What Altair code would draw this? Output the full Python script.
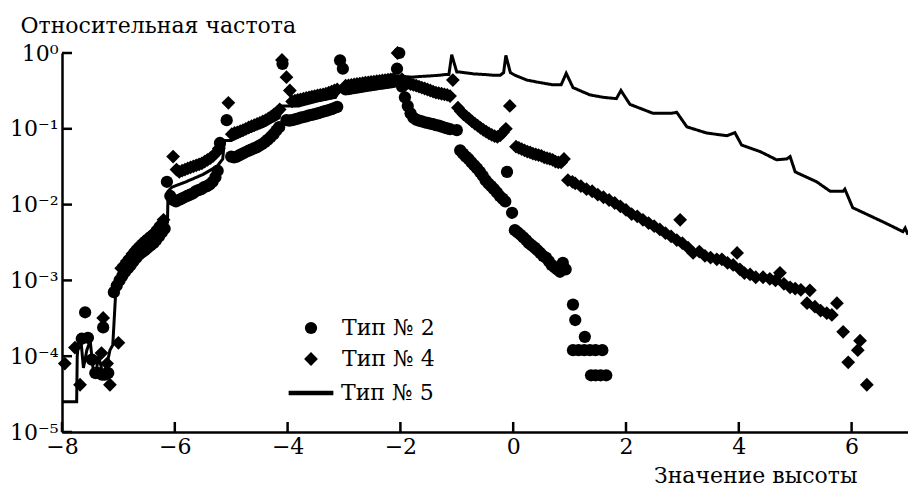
import altair as alt
import pandas as pd

# ---------------- data ----------------
series_names = ["Тип № 2", "Тип № 4", "Тип № 5"]

x_ticks = [-8, -6, -4, -2, 0, 2, 4, 6]
y_ticks = [1, 0.1, 0.01, 0.001, 0.0001, 0.00001]

# Тип № 2 (circles)
c2_x = [-7.65, -7.59, -7.54, -7.47, -7.41, -7.35, -7.29, -7.27, -7.24, -7.18,
        -7.08, -7.03, -6.98, -6.93, -6.88, -6.83, -6.78, -6.73, -6.68, -6.63,
        -6.58, -6.53, -6.48, -6.43, -6.38, -6.33, -6.28, -6.23, -6.18,
        -6.14,
        -6.08, -6.03, -5.98, -5.93, -5.88, -5.83, -5.78, -5.73, -5.68, -5.63,
        -5.58, -5.53, -5.48, -5.43, -5.38, -5.33, -5.28, -5.24,
        -5.20, -5.08,
        -5.00, -4.95, -4.90, -4.85, -4.80, -4.75, -4.70, -4.65, -4.60, -4.55,
        -4.50, -4.45, -4.40, -4.35, -4.30, -4.25, -4.20, -4.15,
        -4.09,
        -4.02, -3.97, -3.92, -3.87, -3.82, -3.77, -3.72, -3.67, -3.62, -3.57,
        -3.52, -3.47, -3.42, -3.37, -3.32, -3.27, -3.22, -3.17, -3.12,
        -3.07, -3.02,
        -2.97, -2.92, -2.87, -2.82, -2.77, -2.72, -2.67, -2.62, -2.57, -2.52,
        -2.47, -2.42, -2.37, -2.32, -2.27, -2.22, -2.17, -2.12,
        -2.06, -2.02,
        -1.97, -1.92, -1.87, -1.82, -1.77, -1.72, -1.67, -1.62, -1.57, -1.52,
        -1.47, -1.42, -1.37, -1.32, -1.27, -1.22, -1.17, -1.12,
        -1.00,
        -0.94, -0.89, -0.84, -0.79, -0.74, -0.69, -0.64, -0.59, -0.54, -0.49,
        -0.44, -0.39, -0.34, -0.29, -0.24, -0.19, -0.14,
        -0.11,
        -0.02, 0.03, 0.08, 0.13, 0.18, 0.23, 0.28, 0.33, 0.38, 0.43,
        0.48, 0.53, 0.58, 0.63, 0.68, 0.73, 0.78, 0.83, 0.88, 0.93,
        1.06, 1.10, 1.27, 1.06, 1.16, 1.26, 1.36, 1.46, 1.58,
        1.38, 1.46, 1.55, 1.65]
c2_y = [1.7e-4, 3.8e-4, 1.75e-4, 9e-5, 6e-5, 6e-5, 5.7e-5, 2.4e-4, 5.7e-5, 6e-5,
        7e-4, 8.5e-4, 1.0e-3, 1.15e-3, 1.3e-3, 1.45e-3, 1.6e-3, 1.8e-3, 2.0e-3, 2.2e-3,
        2.35e-3, 2.5e-3, 2.7e-3, 2.9e-3, 3.1e-3, 3.4e-3, 3.8e-3, 4.3e-3, 4.8e-3,
        2.0e-2,
        1.3e-2, 1.15e-2, 1.1e-2, 1.15e-2, 1.2e-2, 1.25e-2, 1.3e-2, 1.35e-2, 1.4e-2, 1.5e-2,
        1.55e-2, 1.6e-2, 1.7e-2, 1.75e-2, 1.85e-2, 2.0e-2, 2.3e-2, 2.8e-2,
        6.5e-2, 0.13,
        4.3e-2, 4.2e-2, 4.3e-2, 4.5e-2, 4.7e-2, 4.9e-2, 5.1e-2, 5.3e-2, 5.5e-2, 5.7e-2,
        6.0e-2, 6.3e-2, 6.7e-2, 7.2e-2, 7.8e-2, 8.5e-2, 9.5e-2, 0.105,
        0.72,
        0.13, 0.128, 0.13, 0.133, 0.136, 0.14, 0.143, 0.146, 0.15, 0.153,
        0.156, 0.16, 0.164, 0.168, 0.172, 0.177, 0.182, 0.188, 0.195,
        0.8, 0.62,
        0.33, 0.335, 0.34, 0.345, 0.35, 0.355, 0.36, 0.365, 0.37, 0.375,
        0.38, 0.385, 0.39, 0.395, 0.4, 0.405, 0.41, 0.415,
        0.62, 1.0,
        0.36, 0.26, 0.2, 0.16, 0.14, 0.132, 0.128, 0.125, 0.122, 0.12,
        0.117, 0.115, 0.112, 0.11, 0.107, 0.104, 0.101, 0.099,
        0.096,
        0.052, 0.047, 0.043, 0.04, 0.036, 0.033, 0.03, 0.027, 0.024, 0.021,
        0.019, 0.0175, 0.016, 0.0145, 0.013, 0.012, 0.011,
        0.027,
        0.0078, 0.0046, 0.0043, 0.004, 0.0037, 0.0034, 0.0031, 0.0029, 0.0027, 0.0025,
        0.0023, 0.0021, 0.002, 0.0018, 0.0016, 0.0015, 0.0014, 0.0013, 0.0017, 0.0014,
        4.8e-4, 3.0e-4, 1.8e-4, 1.2e-4, 1.2e-4, 1.2e-4, 1.2e-4, 1.2e-4, 1.2e-4,
        5.6e-5, 5.6e-5, 5.6e-5, 5.6e-5]

# Тип № 4 (diamonds)
d4_x = [-7.95, -7.77, -7.68, -7.30, -7.27, -7.20, -7.15, -7.00,
        -6.95, -6.90, -6.85, -6.80, -6.75, -6.70, -6.65, -6.60, -6.55, -6.50,
        -6.45, -6.40, -6.35, -6.30, -6.25, -6.20,
        -6.03,
        -5.97, -5.92, -5.87, -5.82, -5.77, -5.72, -5.67, -5.62, -5.57, -5.52,
        -5.47, -5.42, -5.37, -5.32, -5.27, -5.22,
        -5.05,
        -4.99, -4.94, -4.89, -4.84, -4.79, -4.74, -4.69, -4.64, -4.59, -4.54,
        -4.49, -4.44, -4.39, -4.34, -4.29, -4.24, -4.19, -4.14,
        -4.10, -4.02, -3.96,
        -3.92, -3.87, -3.82, -3.77, -3.72, -3.67, -3.62, -3.57, -3.52, -3.47,
        -3.42, -3.37, -3.32, -3.27, -3.22, -3.17, -3.12,
        -2.97, -2.92, -2.87, -2.82, -2.77, -2.72, -2.67, -2.62, -2.57, -2.52,
        -2.47, -2.42, -2.37, -2.32, -2.27, -2.22, -2.17, -2.12,
        -2.05,
        -1.97, -1.92, -1.87, -1.82, -1.77, -1.72, -1.67, -1.62, -1.57, -1.52,
        -1.47, -1.42, -1.37, -1.32, -1.27, -1.22, -1.17, -1.12,
        -1.07,
        -0.98, -0.93, -0.88, -0.83, -0.78, -0.73, -0.68, -0.63, -0.58, -0.53,
        -0.48, -0.43, -0.38, -0.33, -0.28, -0.23, -0.18, -0.13,
        -0.06,
        0.05, 0.10, 0.15, 0.20, 0.25, 0.30, 0.35, 0.40, 0.45, 0.50,
        0.55, 0.60, 0.65, 0.70, 0.75, 0.80, 0.85, 0.90,
        0.97, 1.05, 1.10, 1.20, 1.30, 1.40, 1.50, 1.60, 1.70, 1.80,
        1.90, 2.00, 2.10, 2.20, 2.30, 2.40, 2.50, 2.60, 2.70, 2.80,
        2.90, 2.96, 3.00, 3.10, 3.19, 3.30, 3.40, 3.50, 3.61, 3.70,
        3.80, 3.90, 3.97, 4.02, 4.10, 4.20, 4.30, 4.43, 4.55, 4.65,
        4.73, 4.80, 4.91, 5.00, 5.10, 5.21, 5.26, 5.35, 5.45, 5.56,
        5.65, 5.74, 5.85, 5.94, 6.11, 6.15, 6.27]
d4_y = [8e-5, 1.3e-4, 4.2e-5, 1.1e-4, 3.2e-4, 8e-5, 4.2e-5, 1.5e-4,
        1.45e-3, 1.6e-3, 1.8e-3, 2.0e-3, 2.25e-3, 2.5e-3, 2.75e-3, 3.0e-3, 3.25e-3, 3.5e-3,
        3.75e-3, 4.0e-3, 4.4e-3, 4.9e-3, 5.5e-3, 6.3e-3,
        4.3e-2,
        2.9e-2, 2.7e-2, 2.8e-2, 2.9e-2, 3.0e-2, 3.1e-2, 3.2e-2, 3.3e-2, 3.4e-2, 3.5e-2,
        3.7e-2, 3.9e-2, 4.1e-2, 4.4e-2, 4.8e-2, 5.5e-2,
        0.22,
        0.085, 0.088, 0.09, 0.093, 0.096, 0.1, 0.104, 0.108, 0.112, 0.116,
        0.12, 0.125, 0.13, 0.137, 0.145, 0.155, 0.165, 0.18,
        0.81, 0.48, 0.32,
        0.23, 0.235, 0.24, 0.245, 0.25, 0.255, 0.26, 0.265, 0.27, 0.275,
        0.28, 0.285, 0.29, 0.3, 0.31, 0.32, 0.33,
        0.37, 0.375, 0.38, 0.385, 0.39, 0.395, 0.4, 0.405, 0.41, 0.415,
        0.42, 0.425, 0.43, 0.435, 0.44, 0.445, 0.45, 0.455,
        1.0,
        0.45, 0.42, 0.4, 0.39, 0.38, 0.37, 0.36, 0.35, 0.34, 0.33,
        0.32, 0.31, 0.3, 0.295, 0.29, 0.285, 0.28, 0.27,
        0.44,
        0.19, 0.17, 0.155, 0.145, 0.135, 0.125, 0.117, 0.11, 0.103, 0.097,
        0.092, 0.087, 0.083, 0.08, 0.078, 0.082, 0.09, 0.1,
        0.2,
        0.058, 0.056, 0.054, 0.052, 0.05, 0.049, 0.047, 0.046, 0.045, 0.044,
        0.042, 0.041, 0.04, 0.039, 0.037, 0.036, 0.036, 0.04,
        0.021, 0.02, 0.019, 0.0175, 0.016, 0.015, 0.0135, 0.0125, 0.0115, 0.0105,
        0.0095, 0.0085, 0.0075, 0.007, 0.0063, 0.0057, 0.0052, 0.0047, 0.0042, 0.0038,
        0.0034, 0.0063, 0.0031, 0.0027, 0.0023, 0.0024, 0.0021, 0.002, 0.0019, 0.0019,
        0.0017, 0.0016, 0.0023, 0.0014, 0.00125, 0.0012, 0.0011, 0.0011, 0.00105, 0.001,
        0.00126, 0.0009, 0.00081, 0.00078, 0.00075, 0.0005, 0.00074, 0.00045, 0.0004, 0.00037,
        0.00035, 0.0005, 0.00021, 8.3e-5, 1.2e-4, 1.6e-4, 4.2e-5]

# Тип № 5 (line)
l5_x = [-8.00, -7.74, -7.73, -7.70, -7.66, -7.62, -7.56, -7.50, -7.45, -7.40,
        -7.35, -7.30, -7.25, -7.20, -7.15, -7.10, -7.07, -7.05, -7.00, -6.80,
        -6.60, -6.40, -6.20, -6.13, -6.12, -6.05, -5.80, -5.50, -5.25, -5.15,
        -5.12, -5.00, -4.70, -4.40, -4.15, -4.10, -3.80, -3.50, -3.15, -3.08,
        -2.80, -2.50, -2.20, -2.08, -2.05, -1.80, -1.65, -1.45, -1.30, -1.20,
        -1.14, -1.09, -1.00, -0.94, -0.70, -0.50, -0.36, -0.23, -0.17, -0.13,
        -0.05, 0.03, 0.24, 0.45, 0.71, 0.85, 0.94, 1.06, 1.36, 1.60,
        1.83, 1.91, 2.07, 2.48, 2.80, 2.90, 3.08, 3.43, 3.79, 3.93,
        4.05, 4.38, 4.67, 4.85, 4.91, 5.00, 5.38, 5.62, 5.85, 5.88,
        6.02, 6.56, 6.91, 6.95, 7.00]
l5_y = [2.5e-5, 2.5e-5, 1.0e-4, 1.8e-4, 1.5e-4, 7e-5, 1.2e-4, 1.6e-4, 7e-5, 6e-5,
        1.0e-4, 7e-5, 6e-5, 8e-5, 1.2e-4, 1.4e-4, 3.5e-4, 6.5e-4, 9.5e-4, 1.8e-3,
        2.7e-3, 3.6e-3, 5.3e-3, 5.8e-3, 1.5e-2, 1.7e-2, 2.0e-2, 2.5e-2, 3.2e-2, 4.0e-2,
        7.0e-2, 7.0e-2, 0.09, 0.11, 0.14, 0.2, 0.2, 0.23, 0.26, 0.33,
        0.36, 0.4, 0.43, 0.45, 0.5, 0.48, 0.49, 0.5, 0.51, 0.52,
        0.52, 0.95, 0.56, 0.56, 0.53, 0.52, 0.51, 0.51, 0.55, 0.93,
        0.55, 0.51, 0.44, 0.41, 0.38, 0.38, 0.54, 0.35, 0.28, 0.26,
        0.25, 0.32, 0.21, 0.16, 0.16, 0.165, 0.106, 0.088, 0.081, 0.089,
        0.061, 0.05, 0.039, 0.04, 0.043, 0.027, 0.02, 0.015, 0.015, 0.016,
        0.0091, 0.0059, 0.0044, 0.0049, 0.004]

# ---------------- tables ----------------
pts = pd.concat([
    pd.DataFrame({"x": c2_x, "y": c2_y, "series": series_names[0]}),
    pd.DataFrame({"x": d4_x, "y": d4_y, "series": series_names[1]}),
], ignore_index=True)
line_df = pd.DataFrame({"x": l5_x, "y": l5_y, "i": list(range(len(l5_x))),
                        "series": series_names[2]})
xt_df = pd.DataFrame({"t": x_ticks})
yt_df = pd.DataFrame({"t": y_ticks})

W, H = 846, 379
FONT = "DejaVu Serif"
FS = 22

xs = alt.Scale(domain=[-8, 7], nice=False, zero=False)
ys = alt.Scale(type="log", domain=[1e-5, 1], nice=False)

xaxis = alt.Axis(
    values=x_ticks, ticks=False, grid=False,
    labelExpr="datum.value < 0 ? '\u2212' + abs(datum.value) : '' + datum.value",
    labelFont=FONT, labelFontSize=FS, labelColor="black", labelPadding=4,
    labelOverlap=False, labelFlush=False,
    domainColor="black", domainWidth=2.5,
    title="Значение высоты", titleFont=FONT, titleFontSize=FS, titleFontWeight="normal",
    titleColor="black", titleAlign="right", titleBaseline="alphabetic",
    titleX=795, titleY=50,
)
yaxis = alt.Axis(
    values=y_ticks, ticks=False, grid=False,
    labelExpr="'10' + ['\u2070','\u207b\u00b9','\u207b\u00b2','\u207b\u00b3','\u207b\u2074','\u207b\u2075'][round(-log(datum.value)/LN10)]",
    labelFont=FONT, labelFontSize=FS, labelColor="black", labelPadding=4,
    labelOverlap=False, labelFlush=False,
    domainColor="black", domainWidth=2.5,
    title="Относительная частота", titleFont=FONT, titleFontSize=FS, titleFontWeight="normal",
    titleColor="black", titleAngle=0, titleAlign="left", titleBaseline="alphabetic",
    titleX=-42, titleY=-21,
)

leg_pts = alt.Legend(
    orient="none", legendX=238, legendY=264, title=None, padding=0,
    labelFont=FONT, labelFontSize=FS, labelColor="black", labelOffset=20,
    rowPadding=9,
)
leg_line = alt.Legend(
    orient="none", legendX=224, legendY=315, title=None, padding=0,
    labelFont=FONT, labelFontSize=FS, labelColor="black", labelOffset=5,
    symbolType="stroke", symbolSize=2000, symbolStrokeWidth=4.5,
    symbolStrokeColor="black",
)

line = alt.Chart(line_df).mark_line(color="black", strokeWidth=3, strokeJoin="miter").encode(
    x=alt.X("x:Q", scale=xs, axis=xaxis),
    y=alt.Y("y:Q", scale=ys, axis=yaxis),
    strokeDash=alt.StrokeDash("series:N", scale=alt.Scale(domain=[series_names[2]], range=[[1, 0]]),
                              legend=leg_line),
    order="i:Q",
)

points = alt.Chart(pts).mark_point(filled=True, color="black", opacity=1).encode(
    x=alt.X("x:Q", scale=xs, axis=xaxis),
    y=alt.Y("y:Q", scale=ys, axis=yaxis),
    shape=alt.Shape("series:N", scale=alt.Scale(domain=series_names[:2], range=["circle", "diamond"]), legend=leg_pts),
    size=alt.Size("series:N", scale=alt.Scale(domain=series_names[:2], range=[150, 190]), legend=leg_pts),
)

xticks = alt.Chart(xt_df).mark_rule(color="black", strokeWidth=2.5).encode(
    x=alt.X("t:Q", scale=xs, axis=xaxis),
    y=alt.value(H), y2=alt.value(H - 10),
)
yticks = alt.Chart(yt_df).mark_rule(color="black", strokeWidth=2.5).encode(
    y=alt.Y("t:Q", scale=ys, axis=yaxis),
    x=alt.value(0), x2=alt.value(10),
)

chart = alt.layer(line, points, xticks, yticks).properties(
    width=W, height=H, autosize="none",
    padding={"left": 62, "top": 53, "right": 0, "bottom": 54},
    background="white",
).configure_view(stroke=None)

chart.save("out.html", embed_options={"renderer": "svg", "actions": False})
